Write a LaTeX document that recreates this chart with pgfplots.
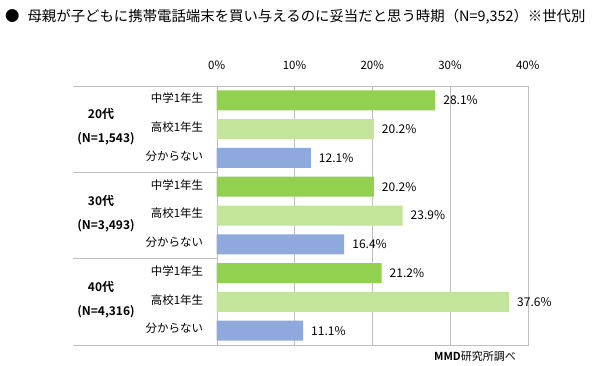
\documentclass[border=0pt]{standalone}
\usepackage{pgfplots}
\pgfplotsset{compat=1.18}
\usepackage{fontspec}
\setmainfont{Noto Sans CJK JP}[BoldFont={Noto Sans CJK JP Bold}]
\definecolor{dgreen}{RGB}{146,208,80}
\definecolor{lgreen}{RGB}{195,228,155}
\definecolor{mblue}{RGB}{142,169,219}
\definecolor{lgray}{RGB}{191,191,191}
\begin{document}
\begin{tikzpicture}
\begin{axis}[
  at={(216.7pt,20pt)}, anchor=south west,
  scale only axis, width=311pt, height=259pt,
  xmin=0, xmax=40, ymin=0.5, ymax=9.5,
  xbar, bar width=20pt, bar shift=0pt,
  /pgf/number format/assume math mode=true,
  axis line style={lgray},
  xtick={0,10,20,30,40},
  xticklabels={0\%,10\%,20\%,30\%,40\%},
  xticklabel pos=upper,
  xticklabel style={anchor=center,yshift=21pt,font=\fontsize{11.5}{13}\selectfont},
  xmajorgrids, grid style={lgray},
  major tick length=0pt,
  ytick={1,...,9},
  yticklabels={分からない,高校1年生,中学1年生,分からない,高校1年生,中学1年生,分からない,高校1年生,中学1年生},
  yticklabel style={anchor=east,xshift=-10pt,yshift=2pt,font=\fontsize{11.5}{13}\selectfont},
  point meta=x,
  nodes near coords={\pgfmathprintnumber[fixed,precision=1,fixed zerofill,assume math mode=true]{\pgfplotspointmeta}\%},
  nodes near coords align=horizontal,
  every node near coord/.append style={anchor=west,inner sep=0pt,xshift=8pt,font=\fontsize{12}{14}\selectfont,black},
]
\addplot[fill=dgreen,draw=none] coordinates {(28.1,9) (20.2,6) (21.2,3)};
\addplot[fill=lgreen,draw=none] coordinates {(20.2,8) (23.9,5) (37.6,2)};
\addplot[fill=mblue,draw=none] coordinates {(12.1,7) (16.4,4) (11.1,1)};
\end{axis}
\begin{scope}[x=1pt,y=1pt]
% title
\node[anchor=west,font=\fontsize{14.4}{16}\selectfont,inner sep=0pt] at (5,348) {●\hspace{8pt}母親が子どもに携帯電話端末を買い与えるのに妥当だと思う時期（N=9,352）※世代別};
% table lines
\draw[lgray] (73,279) -- (527.7,279);
\draw[lgray] (73,20) -- (527.7,20);
\draw[lgray] (73,193) -- (216.7,193);
\draw[lgray] (73,107) -- (216.7,107);
% group labels
\begin{scope}[every node/.style={font=\bfseries\fontsize{12}{14}\selectfont,inner sep=0pt}]
\node at (101,251) {20代};
\node at (106,226) {(N=1,543)};
\node at (101,164.5) {30代};
\node at (106,139.5) {(N=3,493)};
\node at (101,78) {40代};
\node at (106,53) {(N=4,316)};
\end{scope}
\node[font=\fontsize{11}{13}\selectfont,inner sep=0pt] at (475,9) {\textbf{MMD}研究所調べ};
\end{scope}
\useasboundingbox (0,0) rectangle (592pt,365pt);
\end{tikzpicture}
\end{document}
